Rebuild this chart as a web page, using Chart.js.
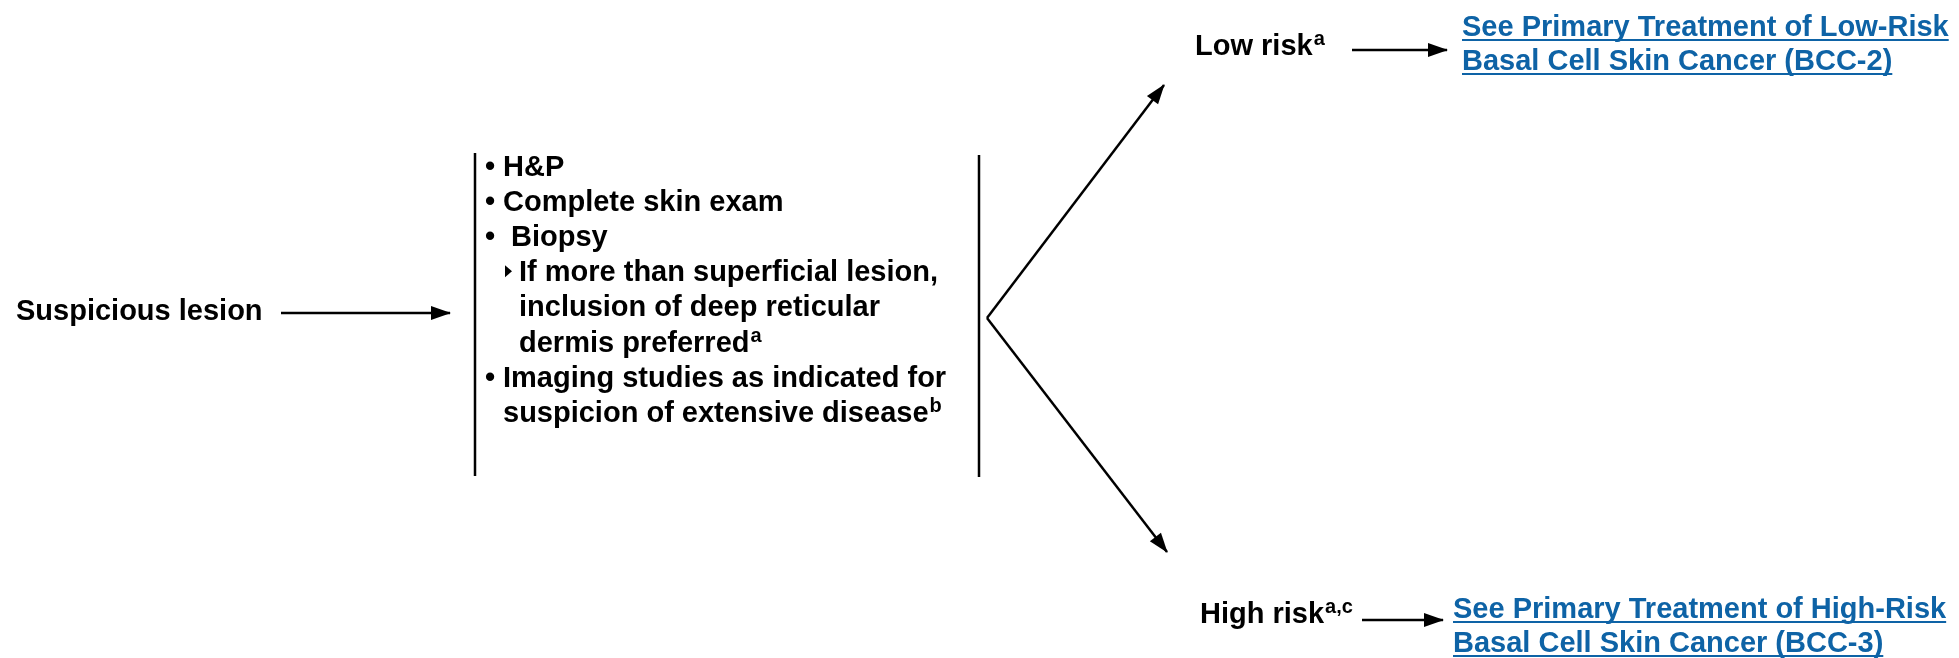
<!DOCTYPE html>
<html>
<head>
<meta charset="utf-8">
<script src="https://cdn.jsdelivr.net/npm/chart.js@4/dist/chart.umd.min.js"></script>
<style>
html, body { margin: 0; padding: 0; background: #fff; }
#wrap { width: 1959px; height: 658px; }
</style>
</head>
<body>
<div id="wrap"><canvas id="flowChart" width="1959" height="658"></canvas></div>
<script>
// nodes of the flow
const flowLabels = ['Suspicious lesion', 'Low risk', 'High risk'];
const flowNotes = ['', 'a', 'a,c'];
const flowX = [16, 1195, 1200];
const flowY = [320, 55, 623]; // baselines

// workup box
const workupLines = [
    'H&P',
    'Complete skin exam',
    ' Biopsy',
    'If more than superficial lesion,',
    'inclusion of deep reticular',
    'dermis preferred',
    'Imaging studies as indicated for',
    'suspicion of extensive disease'
];
const workupMarks = ['•', '•', '•', '▸', '', '', '•', ''];
const workupNotes = ['', '', '', '', '', 'a', '', 'b'];
const workupLevel = [0, 0, 0, 1, 1, 1, 0, 0];

// links to next pages
const linkLines = [
    ['See Primary Treatment of Low-Risk', 'Basal Cell Skin Cancer (BCC-2)'],
    ['See Primary Treatment of High-Risk', 'Basal Cell Skin Cancer (BCC-3)']
];
const linkX = [1462, 1453];
const linkY = [36, 618];

// connectors, arrowhead at the "to" end
const connectorFrom = [[281, 313], [475, 153], [979, 155], [987, 318], [987, 318], [1352, 50], [1362, 620]];
const connectorTo = [[450, 313], [475, 476], [979, 477], [1164, 85], [1167, 552], [1447, 50], [1443, 620]];
const connectorArrow = [true, false, false, true, true, true, true];

const FONT = '"Liberation Sans", Arial, Helvetica, sans-serif';
const LINK_COLOR = 'rgb(14, 99, 166)';

function writeText(ctx, x, y, text, note, color) {
    ctx.fillStyle = color;
    ctx.font = 'bold 29px ' + FONT;
    ctx.fillText(text, x, y);
    if (note) {
        const w = ctx.measureText(text).width;
        ctx.font = 'bold 20px ' + FONT;
        ctx.fillText(note.split(',').join(', ').replace(', ', ','), x + w + 1, y - 10);
    }
}

// arrowheads at the end of the connector lines
const arrowPlugin = {
    id: 'arrows',
    afterDatasetsDraw(chart) {
        const ctx = chart.ctx;
        chart.data.datasets.forEach((ds, i) => {
            if (!ds.arrow) return;
            const pts = chart.getDatasetMeta(i).data;
            const a = pts[pts.length - 2], b = pts[pts.length - 1];
            const ang = Math.atan2(b.y - a.y, b.x - a.x);
            const len = 19, half = 7;
            ctx.save();
            ctx.translate(b.x, b.y);
            ctx.rotate(ang);
            ctx.beginPath();
            ctx.moveTo(1, 0);
            ctx.lineTo(-len, -half);
            ctx.lineTo(-len, half);
            ctx.closePath();
            ctx.fillStyle = '#000';
            ctx.fill();
            ctx.restore();
        });
    }
};

// all the texts, placed through the scales
const textPlugin = {
    id: 'texts',
    afterDraw(chart) {
        const ctx = chart.ctx;
        const sx = v => chart.scales.x.getPixelForValue(v);
        const sy = v => chart.scales.y.getPixelForValue(v);
        ctx.save();
        ctx.textBaseline = 'alphabetic';
        ctx.textAlign = 'left';

        flowLabels.forEach((t, i) => writeText(ctx, sx(flowX[i]), sy(flowY[i]), t, flowNotes[i], '#000'));

        workupLines.forEach((t, i) => {
            const base = sy(176 + i * 35.1);
            const tx = sx(workupLevel[i] ? 519 : 503);
            if (workupMarks[i] === '•') {
                ctx.fillStyle = '#000';
                ctx.font = 'bold 29px ' + FONT;
                ctx.fillText('•', sx(485), base);
            } else if (workupMarks[i] === '▸') {
                ctx.beginPath();
                ctx.moveTo(sx(505), base - 16);
                ctx.lineTo(sx(512), base - 10);
                ctx.lineTo(sx(505), base - 4);
                ctx.closePath();
                ctx.fillStyle = '#000';
                ctx.fill();
            }
            writeText(ctx, tx, base, t, workupNotes[i], '#000');
        });

        linkLines.forEach((lines, i) => {
            lines.forEach((t, j) => {
                const x = sx(linkX[i]), y = sy(linkY[i] + j * 34);
                writeText(ctx, x, y, t, '', LINK_COLOR);
                ctx.font = 'bold 29px ' + FONT;
                const w = ctx.measureText(t).width;
                ctx.fillRect(x, y + 3, w, 2);
            });
        });
        ctx.restore();
    }
};

const datasets = connectorFrom.map((p, i) => ({
    data: [{ x: p[0], y: p[1] }, { x: connectorTo[i][0], y: connectorTo[i][1] }],
    showLine: true,
    borderColor: '#000',
    borderWidth: 2.5,
    pointRadius: 0,
    arrow: connectorArrow[i]
}));

const flowChart = new Chart(
    document.getElementById('flowChart'),
    {
        type: 'scatter',
        data: { datasets: datasets },
        options: {
            responsive: false,
            animation: false,
            layout: { padding: 0 },
            plugins: {
                legend: { display: false },
                tooltip: { enabled: false }
            },
            scales: {
                x: { type: 'linear', min: 0, max: 1959, display: false },
                y: { type: 'linear', min: 0, max: 658, reverse: true, display: false }
            }
        },
        plugins: [arrowPlugin, textPlugin]
    }
);
</script>
</body>
</html>
